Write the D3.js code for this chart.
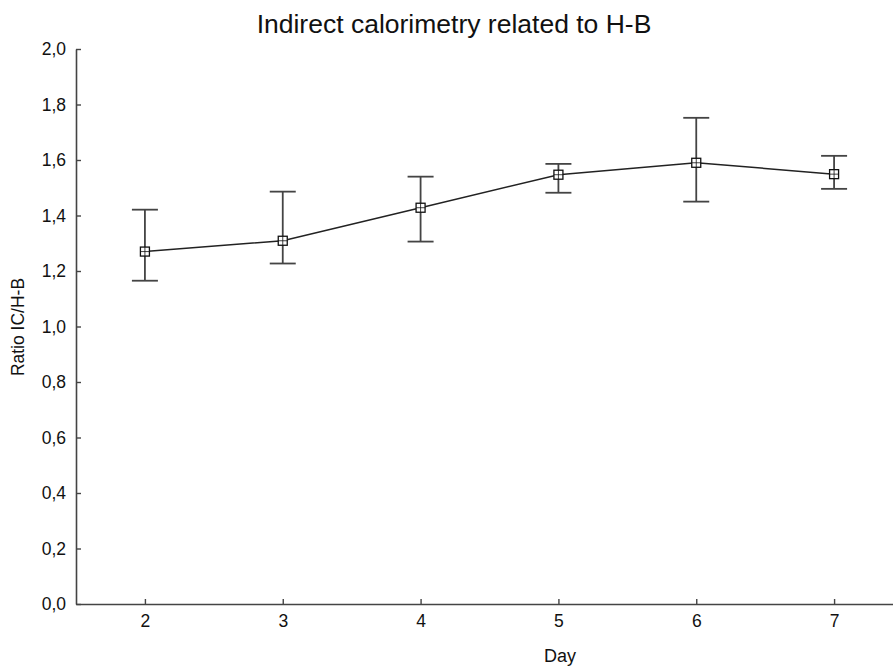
<!DOCTYPE html>
<html>
<head>
<meta charset="utf-8">
<script src="https://cdn.jsdelivr.net/npm/d3@7"></script>
<style>
html,body{margin:0;padding:0;background:#fff;}
svg{display:block;}
text{font-family:"Liberation Sans", Arial, sans-serif;fill:#111;}
</style>
</head>
<body>
<svg id="chart" width="893" height="667"></svg>
<script>
const days = [2, 3, 4, 5, 6, 7];
const means = [1.270, 1.309, 1.428, 1.547, 1.590, 1.549];
const upper = [1.421, 1.486, 1.540, 1.586, 1.752, 1.615];
const lower = [1.165, 1.227, 1.306, 1.482, 1.450, 1.496];
const yTicks = [0, 0.2, 0.4, 0.6, 0.8, 1.0, 1.2, 1.4, 1.6, 1.8, 2.0];
const xTicks = [2, 3, 4, 5, 6, 7];
const title = "Indirect calorimetry related to H-B";
const xLabel = "Day";
const yLabel = "Ratio IC/H-B";

const svg = d3.select("#chart");
const axisColor = "#444";
const x = d3.scaleLinear().domain([1.5, 7.5]).range([76, 903]);
const y = d3.scaleLinear().domain([0, 2]).range([604, 49]);
const fmt = d => d.toFixed(1).replace(".", ",");

// axes
const yAxis = svg.append("g").attr("transform", `translate(${x(1.5)},0)`)
  .call(d3.axisLeft(y).tickValues(yTicks).tickFormat(fmt).tickSize(-5).tickPadding(10).tickSizeOuter(0));
const xAxis = svg.append("g").attr("transform", `translate(0,${y(0)})`)
  .call(d3.axisBottom(x).tickValues(xTicks).tickFormat(d3.format("d")).tickSize(-5).tickPadding(11).tickSizeOuter(0));
[yAxis, xAxis].forEach(g => {
  g.attr("font-size", 17.5).attr("font-family", '"Liberation Sans", Arial, sans-serif');
  g.select(".domain").attr("stroke", axisColor).attr("stroke-width", 1.6);
  g.selectAll(".tick line").attr("stroke", axisColor).attr("stroke-width", 1.4);
  g.selectAll(".tick text").attr("fill", "#111");
});

const data = days.map((d, i) => ({day: d, m: means[i], hi: upper[i], lo: lower[i]}));

// error bars
const eb = svg.append("g").attr("stroke", axisColor).attr("stroke-width", 1.8).attr("fill", "none");
data.forEach(d => {
  eb.append("line").attr("x1", x(d.day)).attr("x2", x(d.day)).attr("y1", y(d.hi)).attr("y2", y(d.lo));
  eb.append("line").attr("x1", x(d.day) - 13).attr("x2", x(d.day) + 13).attr("y1", y(d.hi)).attr("y2", y(d.hi));
  eb.append("line").attr("x1", x(d.day) - 13).attr("x2", x(d.day) + 13).attr("y1", y(d.lo)).attr("y2", y(d.lo));
});

// line
svg.append("path").datum(data)
  .attr("d", d3.line().x(d => x(d.day)).y(d => y(d.m)))
  .attr("fill", "none").attr("stroke", "#222").attr("stroke-width", 1.5);

// markers: square with cross
const mk = svg.append("g");
data.forEach(d => {
  const cx = x(d.day), cy = y(d.m);
  mk.append("rect").attr("x", cx - 4.5).attr("y", cy - 4.5).attr("width", 9).attr("height", 9)
    .attr("fill", "#fff").attr("stroke", "#111").attr("stroke-width", 1.3);
  mk.append("line").attr("x1", cx - 4.5).attr("x2", cx + 4.5).attr("y1", cy).attr("y2", cy)
    .attr("stroke", "#111").attr("stroke-width", 0.8);
  mk.append("line").attr("x1", cx).attr("x2", cx).attr("y1", cy - 4.5).attr("y2", cy + 4.5)
    .attr("stroke", "#111").attr("stroke-width", 0.8);
});

// titles
svg.append("text").attr("x", 454).attr("y", 33).attr("text-anchor", "middle")
  .attr("font-size", 26.5).text(title);
svg.append("text").attr("x", 560).attr("y", 662).attr("text-anchor", "middle")
  .attr("font-size", 18).text(xLabel);
svg.append("text").attr("transform", "translate(24,327) rotate(-90)").attr("text-anchor", "middle")
  .attr("font-size", 17.5).text(yLabel);
</script>
</body>
</html>
